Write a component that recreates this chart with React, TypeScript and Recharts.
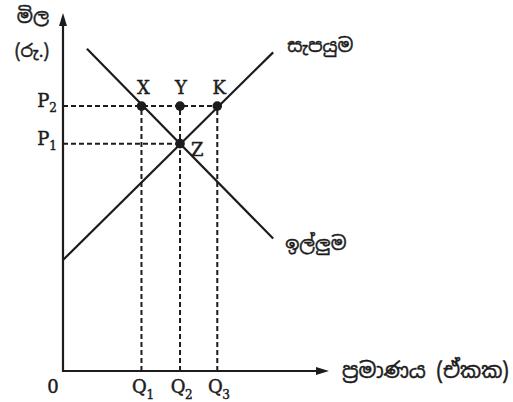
import {
  ComposedChart,
  Line,
  ReferenceDot,
  ReferenceLine,
  Scatter,
  XAxis,
  YAxis,
} from 'recharts'

// Quantity / price readings (chart units, axis runs 0..10 both ways)
const Q_VALUES = [2.95, 4.4, 5.8]
const Q_SUBS = ['1', '2', '3']
const P_VALUES = [6.35, 7.4]
const P_SUBS = ['1', '2']

const DEMAND_Q = [0.9, 7.9]
const DEMAND_P = [9.0, 3.7]
const SUPPLY_Q = [0, 7.9]
const SUPPLY_P = [3.1, 8.9]

const POINT_NAMES = ['X', 'Y', 'K', 'Z']
const POINT_Q = [2.95, 4.4, 5.8, 4.4]
const POINT_P = [7.4, 7.4, 7.4, 6.35]

const SUPPLY_NAME = 'සැපයුම'
const DEMAND_NAME = 'ඉල්ලුම'
const Y_TITLE = 'මිල'
const Y_UNIT = '(රු.)'
const X_TITLE = 'ප්‍රමාණය (ඒකක)'

const INK = '#1c1c1c'
const SERIF = '"DejaVu Serif", "Liberation Serif", serif'
const SINHALA = '"Noto Sans Sinhala", "Iskoola Pota", "Noto Sans", sans-serif'

// print-like heavier glyphs
const textInk = { fill: INK, stroke: INK, strokeWidth: 0.45 }

const demandData = DEMAND_Q.map((q, i) => ({ x: q, y: DEMAND_P[i] }))
const supplyData = SUPPLY_Q.map((q, i) => ({ x: q, y: SUPPLY_P[i] }))
const pointData = POINT_NAMES.map((name, i) => ({ name, x: POINT_Q[i], y: POINT_P[i] }))

// label placement relative to the dot (px)
const pointLabelOffset: Record<string, [number, number, 'start' | 'middle']> = {
  X: [2, -12, 'middle'],
  Y: [1, -12, 'middle'],
  K: [2, -12, 'middle'],
  Z: [11, 12, 'start'],
}

function YArrow(props: any) {
  const { x1, y1, y2 } = props
  const top = Math.min(y1, y2)
  const bottom = Math.max(y1, y2)
  return (
    <g>
      <line x1={x1} y1={bottom + 1} x2={x1} y2={top + 6} stroke={INK} strokeWidth={2.2} />
      <polygon points={`${x1},${top} ${x1 - 4},${top + 13} ${x1 + 4},${top + 13}`} fill={INK} />
      <text x={33} y={23} textAnchor="middle" fontFamily={SINHALA} fontSize={19} {...textInk}>
        {Y_TITLE}
      </text>
      <text x={32} y={57} textAnchor="middle" fontFamily={SINHALA} fontSize={18} {...textInk}>
        {Y_UNIT}
      </text>
    </g>
  )
}

function XArrow(props: any) {
  const { x1, x2, y1 } = props
  const left = Math.min(x1, x2)
  const right = Math.max(x1, x2)
  return (
    <g>
      <line x1={left - 1} y1={y1} x2={right - 6} y2={y1} stroke={INK} strokeWidth={2.2} />
      <polygon points={`${right},${y1} ${right - 13},${y1 - 4} ${right - 13},${y1 + 4}`} fill={INK} />
      <text x={left - 10} y={393} textAnchor="middle" fontFamily={SERIF} fontSize={18} {...textInk}>
        0
      </text>
      <text x={right + 13} y={378} fontFamily={SINHALA} fontSize={21} {...textInk}>
        {X_TITLE}
      </text>
    </g>
  )
}

function PointShape(props: any) {
  const { cx, cy, payload } = props
  const [dx, dy, anchor] = pointLabelOffset[payload.name] ?? [0, -12, 'middle']
  return (
    <g>
      <circle cx={cx} cy={cy} r={4.8} fill={INK} />
      <text x={cx + dx} y={cy + dy} textAnchor={anchor} fontFamily={SERIF} fontSize={18} {...textInk}>
        {payload.name}
      </text>
    </g>
  )
}

export default function App() {
  return (
    <div style={{ position: 'absolute', left: 0, top: 0, width: 513, height: 402, background: '#fff' }}>
      <ComposedChart width={513} height={402} margin={{ top: 13, right: 184, bottom: 31, left: 63 }}>
        <XAxis type="number" dataKey="x" domain={[0, 10]} hide allowDataOverflow />
        <YAxis type="number" dataKey="y" domain={[0, 10]} hide allowDataOverflow />

        {/* dashed guides */}
        {P_VALUES.map((p, i) => (
          <ReferenceLine
            key={`p${i}`}
            segment={[
              { x: 0, y: p },
              { x: i === 0 ? Q_VALUES[1] : Q_VALUES[2], y: p },
            ]}
            stroke={INK}
            strokeWidth={2}
            strokeDasharray="5 3"
            ifOverflow="visible"
            label={({ viewBox }: any) => (
              <text x={viewBox.x - 6} y={viewBox.y + 1} textAnchor="end" fontFamily={SERIF} fontSize={18} {...textInk}>
                P
                <tspan dx={0} dy={5} fontSize={12}>
                  {P_SUBS[i]}
                </tspan>
              </text>
            )}
          />
        ))}
        {Q_VALUES.map((q, i) => (
          <ReferenceLine
            key={`q${i}`}
            segment={[
              { x: q, y: 0 },
              { x: q, y: P_VALUES[1] },
            ]}
            stroke={INK}
            strokeWidth={2}
            strokeDasharray="5 3"
            ifOverflow="visible"
            label={({ viewBox }: any) => (
              <g>
                <text x={viewBox.x - 2} y={viewBox.y + viewBox.height + 22} textAnchor="middle" fontFamily={SERIF} fontSize={18} {...textInk}>
                  Q
                </text>
                <text x={viewBox.x + 5} y={viewBox.y + viewBox.height + 28} fontFamily={SERIF} fontSize={12} {...textInk}>
                  {Q_SUBS[i]}
                </text>
              </g>
            )}
          />
        ))}

        {/* axes with arrowheads */}
        <ReferenceLine segment={[{ x: 0, y: 0 }, { x: 0, y: 10 }]} ifOverflow="visible" shape={YArrow} />
        <ReferenceLine segment={[{ x: 0, y: 0 }, { x: 10, y: 0 }]} ifOverflow="visible" shape={XArrow} />

        <Line data={demandData} dataKey="y" type="linear" stroke={INK} strokeWidth={2.2} dot={false} activeDot={false} isAnimationActive={false} />
        <Line data={supplyData} dataKey="y" type="linear" stroke={INK} strokeWidth={2.2} dot={false} activeDot={false} isAnimationActive={false} />

        <ReferenceDot
          x={SUPPLY_Q[1]}
          y={SUPPLY_P[1]}
          r={0}
          ifOverflow="visible"
          label={({ viewBox }: any) => (
            <text x={viewBox.x + 14} y={viewBox.y - 0} fontFamily={SINHALA} fontSize={18.5} {...textInk}>
              {SUPPLY_NAME}
            </text>
          )}
        />
        <ReferenceDot
          x={DEMAND_Q[1]}
          y={DEMAND_P[1]}
          r={0}
          ifOverflow="visible"
          label={({ viewBox }: any) => (
            <text x={viewBox.x + 12} y={viewBox.y + 11} fontFamily={SINHALA} fontSize={18.5} {...textInk}>
              {DEMAND_NAME}
            </text>
          )}
        />

        <Scatter data={pointData} dataKey="y" shape={PointShape} isAnimationActive={false} />
      </ComposedChart>
    </div>
  )
}
